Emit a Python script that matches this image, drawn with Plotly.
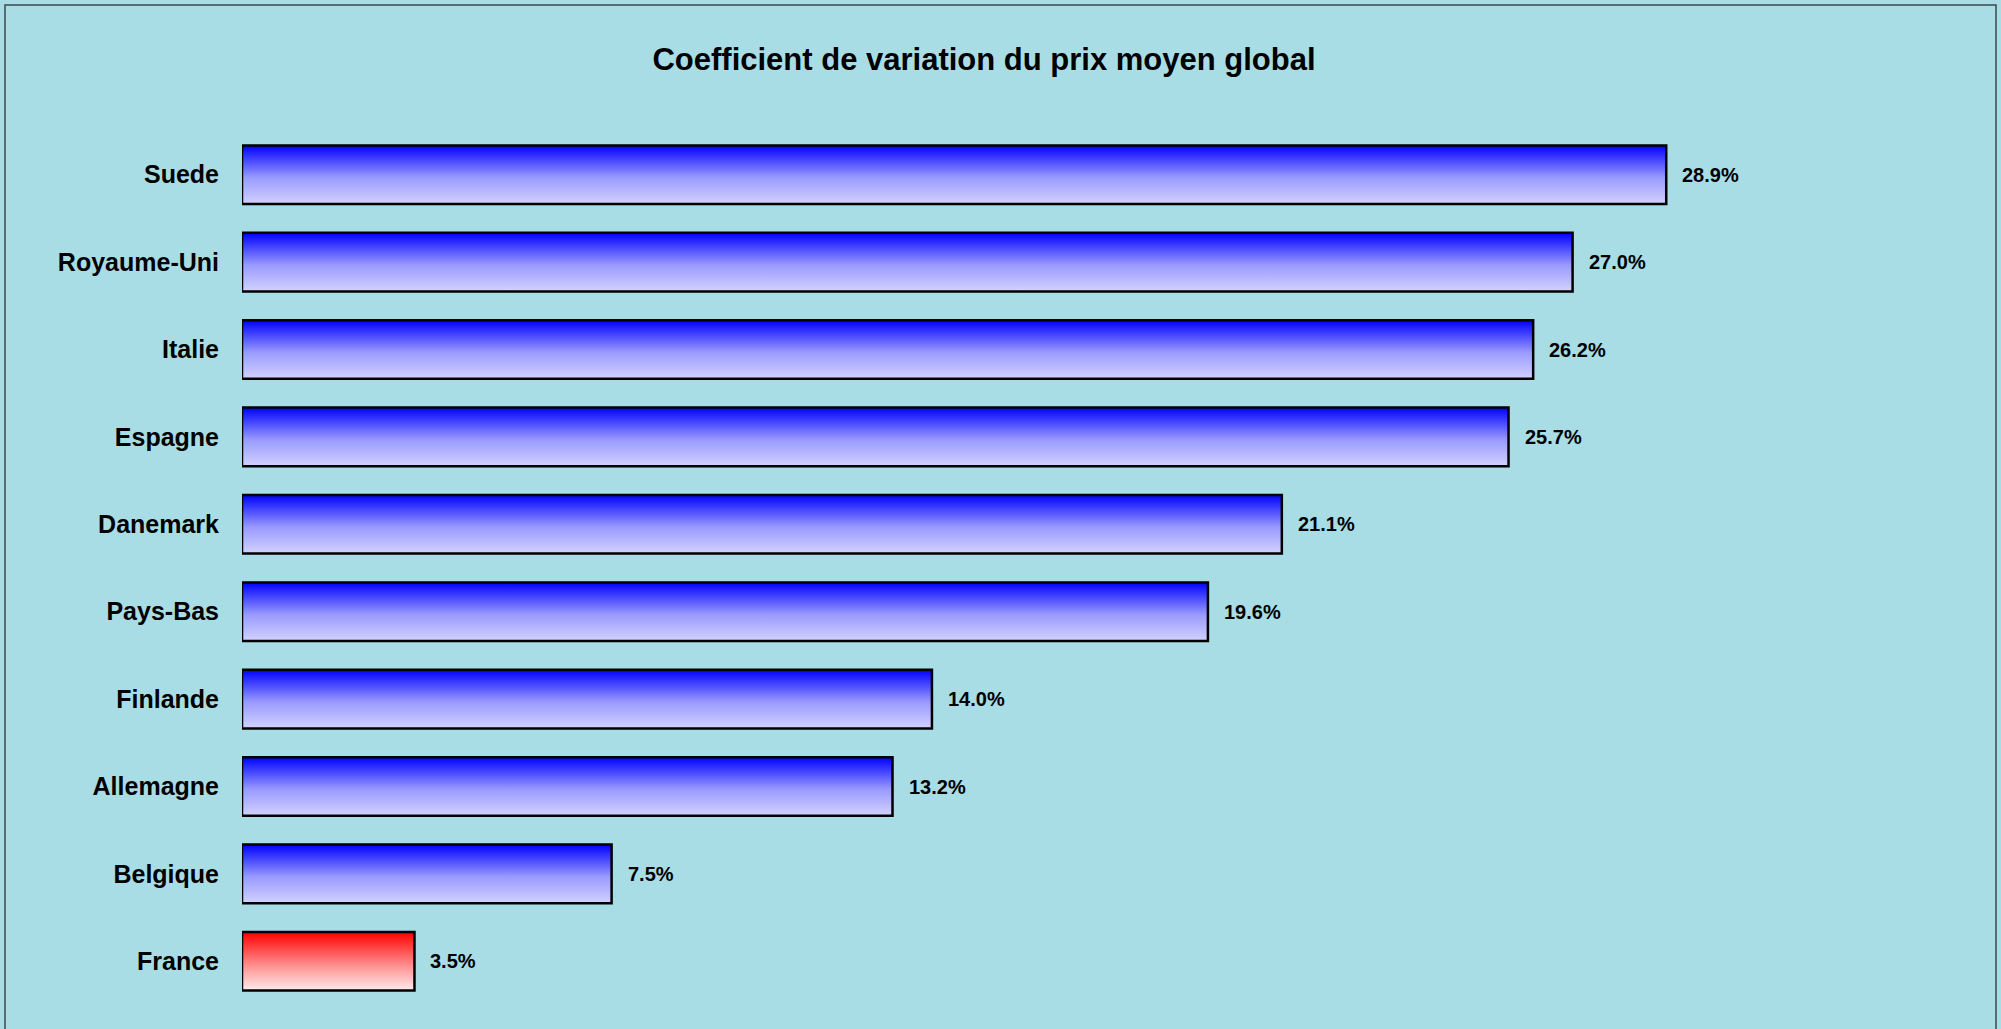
import plotly.graph_objects as go

# donnees (du bas vers le haut)
pays = ['France', 'Belgique', 'Allemagne', 'Finlande', 'Pays-Bas',
        'Danemark', 'Espagne', 'Italie', 'Royaume-Uni', 'Suede']
cv = [3.5, 7.5, 13.2, 14.0, 19.6, 21.1, 25.7, 26.2, 27.0, 28.9]
etiquettes = ['3.5%', '7.5%', '13.2%', '14.0%', '19.6%',
              '21.1%', '25.7%', '26.2%', '27.0%', '28.9%']

W, H = 2001, 1029
ml, mr, mt, mb = 242, 182, 131, 24
demi = 0.335  # demi-hauteur d'une barre en unites de categorie

bleu = [[0, '#d2d2ff'], [0.45, '#9a9aff'], [1, '#0000ff']]
rouge = [[0, '#ffecec'], [0.45, '#ff8a8a'], [1, '#ff0000']]

fig = go.Figure()

for i, (p, v) in enumerate(zip(pays, cv)):
    fig.add_trace(go.Scatter(
        x=[0, v, v, 0, 0],
        y=[i - demi, i - demi, i + demi, i + demi, i - demi],
        mode='lines',
        fill='toself',
        fillgradient=dict(type='vertical',
                          colorscale=rouge if p == 'France' else bleu),
        line=dict(color='black', width=2.5),
        hoverinfo='skip',
        showlegend=False,
    ))
    fig.add_annotation(
        x=v, y=i, text=etiquettes[i], showarrow=False,
        xanchor='left', yanchor='middle', xshift=14,
        font=dict(family='Arial, Liberation Sans', size=20, color='black', weight='bold'),
    )

# cadre autour de l'image (pixels -> coordonnees paper)
pw = W - ml - mr
ph = H - mt - mb
bas = H - mb
fig.add_shape(
    type='rect', xref='paper', yref='paper', layer='below',
    x0=(5 - ml) / pw, x1=(W - 5 - ml) / pw,
    y0=(bas - 1035) / ph, y1=(bas - 5) / ph,
    line=dict(color='#3a4a4c', width=1.5),
)

fig.update_layout(
    width=W, height=H,
    margin=dict(l=ml, r=mr, t=mt, b=mb),
    paper_bgcolor='#a9dde5',
    plot_bgcolor='rgba(0,0,0,0)',
    font=dict(family='Arial, Liberation Sans', color='black'),
    title=dict(
        text='Coefficient de variation du prix moyen global',
        x=984 / W, xref='container', xanchor='center',
        y=1 - 59 / H, yref='container', yanchor='middle',
        font=dict(size=31, weight='bold', color='black'),
    ),
    xaxis=dict(range=[0, 32], visible=False, fixedrange=True),
    yaxis=dict(
        range=[-0.5, len(pays) - 0.5],
        tickvals=list(range(len(pays))), ticktext=pays,
        showgrid=False, zeroline=False, showline=False, ticks='',
        ticklabelstandoff=22, fixedrange=True,
        tickfont=dict(size=25, weight='bold', color='black'),
    ),
)

fig.write_html('out.html', config={'displayModeBar': False},
               post_script="document.body.style.margin='0';")
